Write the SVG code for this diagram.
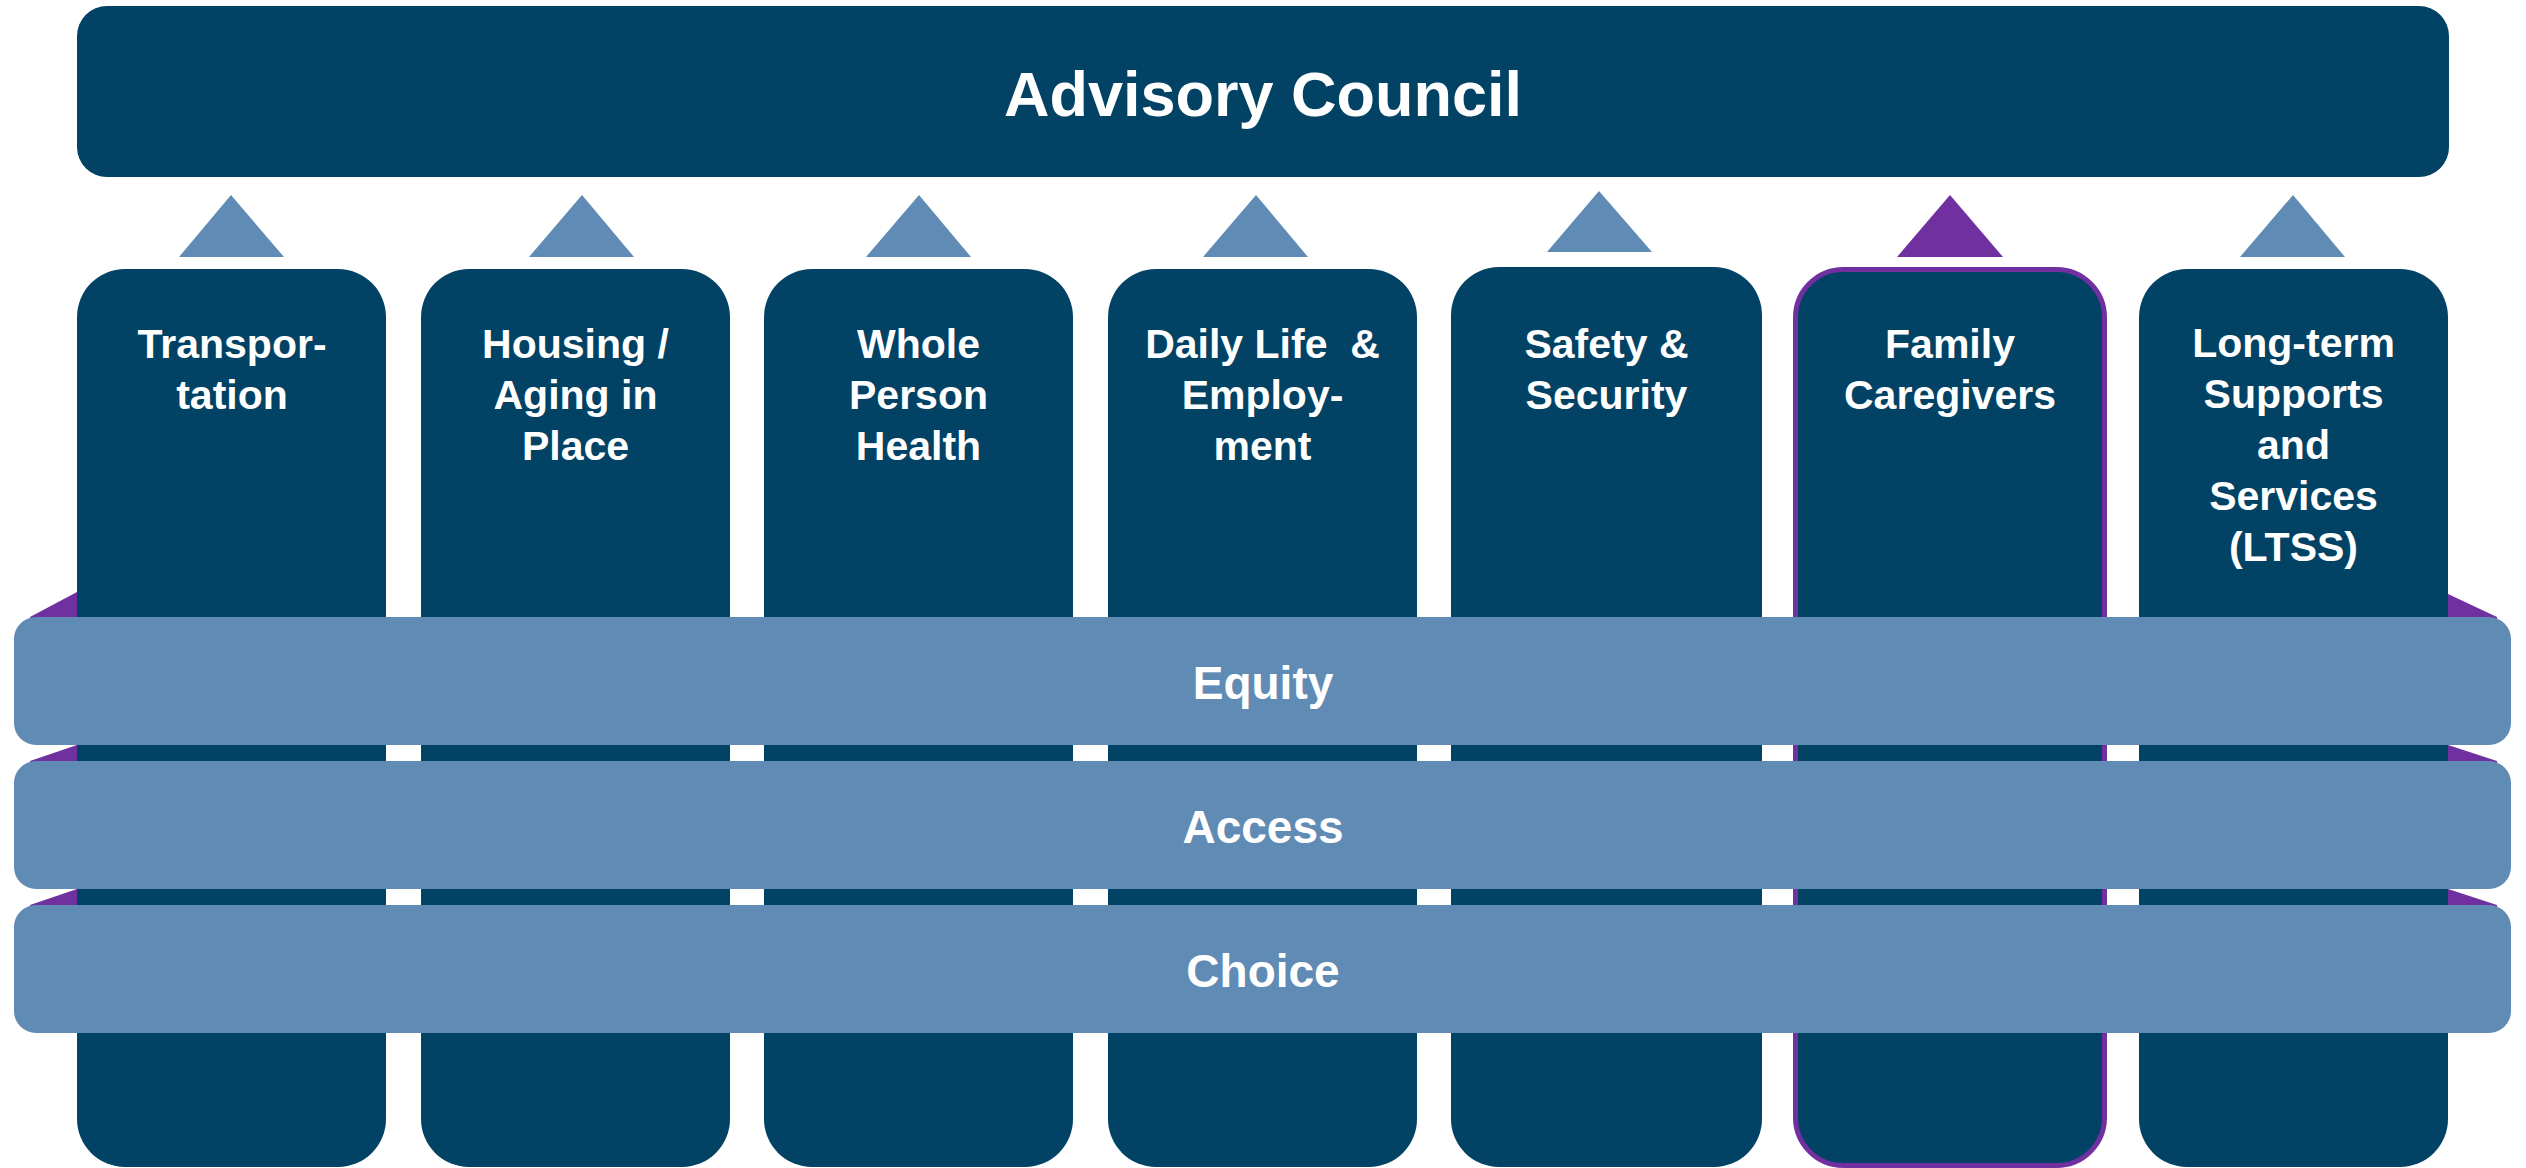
<svg xmlns="http://www.w3.org/2000/svg" width="2526" height="1168" viewBox="0 0 2526 1168">
<style>
.navy{fill:#014265}
.band{fill:#5F8BB4}
.purple{fill:#7030A0}
.tri{fill:#5F8BB4}
text{font-family:"Liberation Sans",Arial,sans-serif;font-weight:bold;fill:#FFFFFF;text-anchor:middle}
.col{font-size:41px}
.bt{font-size:46px}
</style>
<rect width="2526" height="1168" fill="#FFFFFF"/>
<g id="council">
<rect class="navy" x="77" y="6" width="2372" height="171" rx="30"/>
<text x="1263" y="116" font-size="63">Advisory Council</text>
</g>
<g id="connectors">
<polygon class="tri" points="231,195 179,257 284,257"/>
<polygon class="tri" points="582,195 529,257 634,257"/>
<polygon class="tri" points="919,195 866,257 971,257"/>
<polygon class="tri" points="1256,195 1203,257 1308,257"/>
<polygon class="tri" points="1599,191 1547,252 1652,252"/>
<polygon class="purple" points="1950,195 1897,257 2003,257"/>
<polygon class="tri" points="2293,195 2240,257 2345,257"/>
</g>
<g id="folds">
<polygon class="purple" points="77,592 30,617 30,622 77,622"/>
<polygon class="purple" points="77,745 30,761 30,766 77,766"/>
<polygon class="purple" points="77,889 30,905 30,910 77,910"/>
<polygon class="purple" points="2448,594 2497,617 2497,622 2448,622"/>
<polygon class="purple" points="2448,745 2497,761 2497,766 2448,766"/>
<polygon class="purple" points="2448,889 2497,905 2497,910 2448,910"/>
</g>
<g id="col-transportation">
<rect class="navy" x="77" y="269" width="309" height="898" rx="48"/>
<text class="col" x="232" y="358">Transpor-</text>
<text class="col" x="232" y="409">tation</text>
</g>
<g id="col-housing">
<rect class="navy" x="421" y="269" width="309" height="898" rx="48"/>
<text class="col" x="575.5" y="358">Housing /</text>
<text class="col" x="575.5" y="409">Aging in</text>
<text class="col" x="575.5" y="460">Place</text>
</g>
<g id="col-health">
<rect class="navy" x="764" y="269" width="309" height="898" rx="48"/>
<text class="col" x="918.5" y="358">Whole</text>
<text class="col" x="918.5" y="409">Person</text>
<text class="col" x="918.5" y="460">Health</text>
</g>
<g id="col-daily">
<rect class="navy" x="1108" y="269" width="309" height="898" rx="48"/>
<text class="col" x="1262.5" y="358" xml:space="preserve">Daily Life  &amp;</text>
<text class="col" x="1262.5" y="409">Employ-</text>
<text class="col" x="1262.5" y="460">ment</text>
</g>
<g id="col-safety">
<rect class="navy" x="1451" y="267" width="311" height="900" rx="48"/>
<text class="col" x="1606.5" y="358">Safety &amp;</text>
<text class="col" x="1606.5" y="409">Security</text>
</g>
<g id="col-caregivers">
<rect class="navy" x="1795.5" y="269.5" width="309" height="896" rx="48" stroke="#7030A0" stroke-width="5"/>
<text class="col" x="1950" y="358">Family</text>
<text class="col" x="1950" y="409">Caregivers</text>
</g>
<g id="col-ltss">
<rect class="navy" x="2139" y="269" width="309" height="898" rx="48"/>
<text class="col" x="2293.5" y="357">Long-term</text>
<text class="col" x="2293.5" y="408">Supports</text>
<text class="col" x="2293.5" y="459">and</text>
<text class="col" x="2293.5" y="510">Services</text>
<text class="col" x="2293.5" y="561">(LTSS)</text>
</g>
<g id="band-equity">
<rect class="band" x="14" y="617" width="2497" height="128" rx="22"/>
<text class="bt" x="1263" y="699">Equity</text>
</g>
<g id="band-access">
<rect class="band" x="14" y="761" width="2497" height="128" rx="22"/>
<text class="bt" x="1263" y="843">Access</text>
</g>
<g id="band-choice">
<rect class="band" x="14" y="905" width="2497" height="128" rx="22"/>
<text class="bt" x="1263" y="987">Choice</text>
</g>
</svg>
